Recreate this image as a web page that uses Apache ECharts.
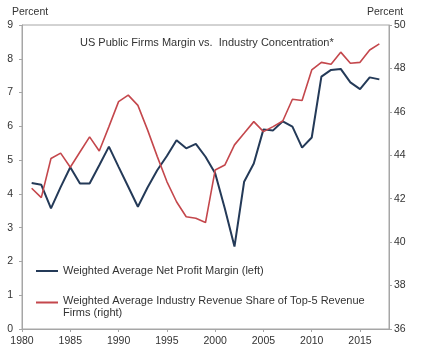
<!DOCTYPE html>
<html>
<head>
<meta charset="utf-8">
<script src="https://cdn.jsdelivr.net/npm/echarts@6/dist/echarts.min.js"></script>
<style>
html,body{margin:0;padding:0;background:#fff;}
#c{width:426px;height:355px;}
</style>
</head>
<body>
<div id="c"></div>
<script>
const years = [1981,1982,1983,1984,1985,1986,1987,1988,1989,1990,1991,1992,1993,1994,1995,1996,1997,1998,1999,2000,2001,2002,2003,2004,2005,2006,2007,2008,2009,2010,2011,2012,2013,2014,2015,2016,2017];
const netProfitMargin = [4.32,4.27,3.57,4.2,4.79,4.31,4.31,4.85,5.4,4.8,4.21,3.62,4.19,4.7,5.12,5.59,5.35,5.48,5.1,4.61,3.57,2.44,4.36,4.9,5.91,5.88,6.15,5.99,5.37,5.67,7.47,7.67,7.7,7.3,7.1,7.45,7.39];
const top5Share = [42.48,42.05,43.85,44.1,43.45,44.15,44.85,44.2,45.32,46.47,46.77,46.3,45.17,43.95,42.79,41.86,41.17,41.1,40.9,43.32,43.55,44.48,45.01,45.55,45.09,45.32,45.58,46.58,46.52,47.93,48.28,48.19,48.75,48.24,48.28,48.85,49.13];
const xTicks = [1980,1985,1990,1995,2000,2005,2010,2015];
const seriesNames = ['Weighted Average Net Profit Margin (left)','Weighted Average Industry Revenue Share of Top-5 Revenue\nFirms (right)'];
const titleText = 'US Public Firms Margin vs.  Industry Concentration*';
const axisUnit = 'Percent';

const BLUE = '#243a58', RED = '#c4474c', AXIS = '#a6a6a6', TXT = '#333333';
const FONT = 'Liberation Sans, Arial, sans-serif';

const chart = echarts.init(document.getElementById('c'));
chart.setOption({
  animation: false,
  backgroundColor: '#fff',
  textStyle: {fontFamily: FONT},
  grid: {left: 22, right: 37, top: 25, bottom: 26, show: true, borderColor: AXIS, borderWidth: 1},
  graphic: [
    {type: 'text', left: 80, top: 37, style: {text: titleText, font: '11px ' + FONT, fill: TXT}},
    {type: 'text', left: 12, top: 7, style: {text: axisUnit, font: '10.5px ' + FONT, fill: TXT}},
    {type: 'text', left: 367, top: 7, style: {text: axisUnit, font: '10.5px ' + FONT, fill: TXT}}
  ],
  legend: [
    {data: [seriesNames[0]], orient: 'vertical', left: 36, top: 265, padding: 0,
     icon: 'rect', itemWidth: 22, itemHeight: 2,
     textStyle: {fontSize: 11, color: TXT, fontFamily: FONT, lineHeight: 12}},
    {data: [seriesNames[1]], orient: 'vertical', left: 36, top: 295, padding: 0,
     icon: 'path://M0 0H22V2H0Z M0 11H0.05V11.05H0Z', itemWidth: 22, itemHeight: 12,
     textStyle: {fontSize: 11, color: TXT, fontFamily: FONT, lineHeight: 12}}
  ],
  xAxis: {
    type: 'value', min: 1980, max: 2018, interval: 5,
    splitLine: {show: false},
    axisLine: {lineStyle: {color: AXIS}},
    axisTick: {length: 3, lineStyle: {color: AXIS}, customValues: xTicks},
    axisLabel: {customValues: xTicks, color: TXT, fontSize: 10.5, margin: 7, formatter: v => String(v)}
  },
  yAxis: [
    {type: 'value', min: 0, max: 9, interval: 1, position: 'left',
     splitLine: {show: false},
     axisLine: {show: true, lineStyle: {color: AXIS}},
     axisTick: {show: true, length: 3, inside: false, lineStyle: {color: AXIS}},
     axisLabel: {color: TXT, fontSize: 10.5, margin: 9}},
    {type: 'value', min: 36, max: 50, interval: 2, position: 'right',
     splitLine: {show: false},
     axisLine: {show: true, lineStyle: {color: AXIS}},
     axisTick: {show: true, length: 3, lineStyle: {color: AXIS}},
     axisLabel: {color: TXT, fontSize: 10.5, margin: 5}}
  ],
  series: [
    {name: seriesNames[0], type: 'line', yAxisIndex: 0, symbol: 'none',
     lineStyle: {color: BLUE, width: 2}, itemStyle: {color: BLUE},
     data: years.map((y, i) => [y, netProfitMargin[i]])},
    {name: seriesNames[1], type: 'line', yAxisIndex: 1, symbol: 'none',
     lineStyle: {color: RED, width: 1.6}, itemStyle: {color: RED},
     data: years.map((y, i) => [y, top5Share[i]])}
  ]
});
</script>
</body>
</html>
